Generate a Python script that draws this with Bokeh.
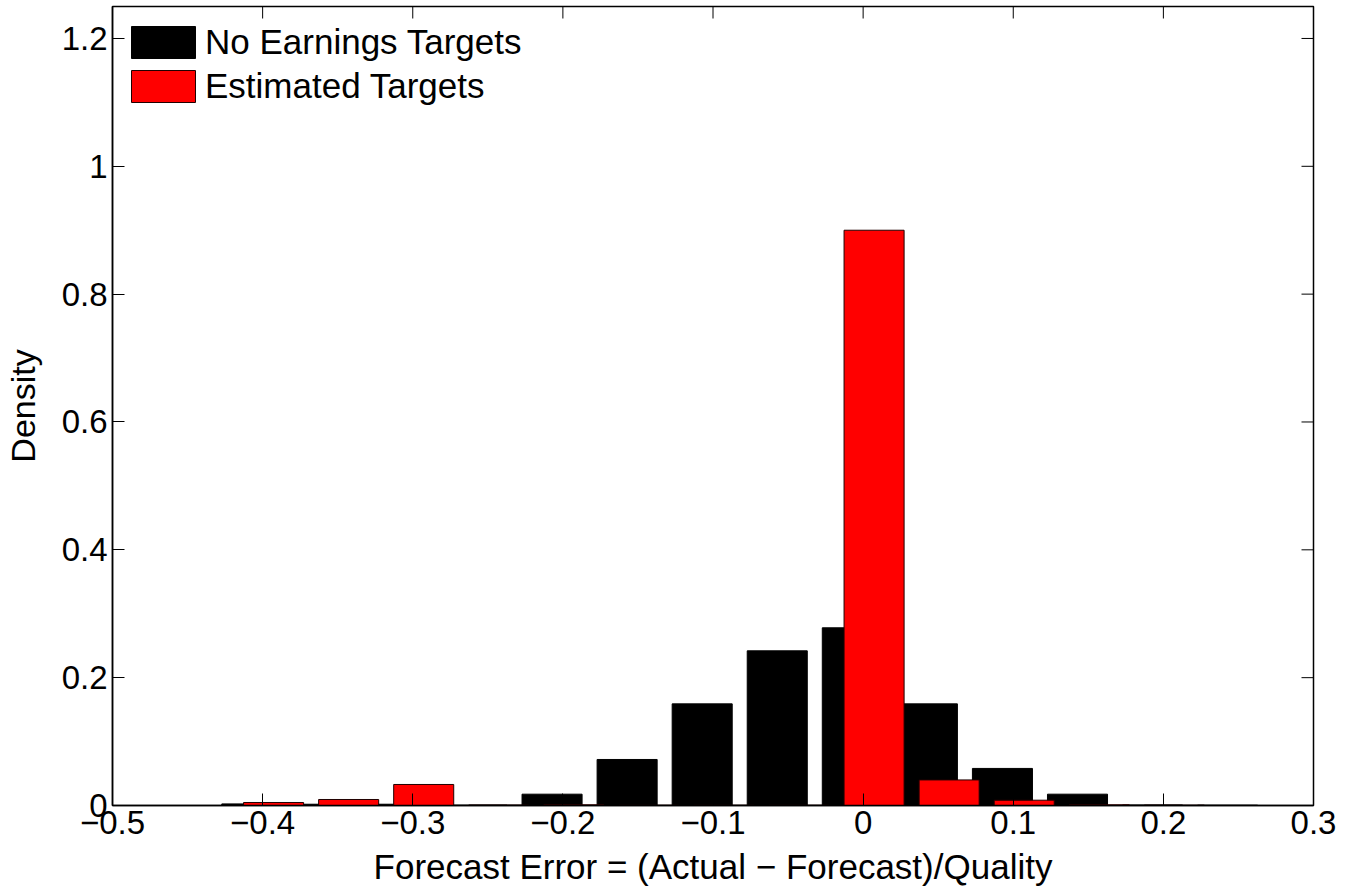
import math
from bokeh.plotting import figure
from bokeh.models import Range1d, FixedTicker, Legend, LegendItem
from bokeh.embed import file_html
from bokeh.resources import INLINE

# ---- data ----
no_target_centers = [-0.4072, -0.3572, -0.3072, -0.2572, -0.2072, -0.1572, -0.1072,
                     -0.0572, -0.0072, 0.0428, 0.0928, 0.1428, 0.1928, 0.2428]
no_target_density = [0.0025, 0.002, 0.002, 0.0005, 0.0177, 0.072, 0.159,
                     0.242, 0.278, 0.159, 0.058, 0.0177, 0.0008, 0.0005]

est_centers = [-0.3927, -0.3427, -0.2927, -0.2427, -0.1927, -0.1427, -0.0927,
               -0.0427, 0.0073, 0.0573, 0.1073, 0.1573, 0.2073]
est_density = [0.0047, 0.0094, 0.0329, 0.0008, 0.001, 0.0005, 0.0005,
               0.0005, 0.9, 0.040, 0.0083, 0.001, 0.0006]

bar_width = 0.04

x_min, x_max = -0.5, 0.3
y_min, y_max = 0, 1.25

x_ticks = [-0.5, -0.4, -0.3, -0.2, -0.1, 0, 0.1, 0.2, 0.3]
x_tick_labels = ["\u22120.5", "\u22120.4", "\u22120.3", "\u22120.2", "\u22120.1", "0", "0.1", "0.2", "0.3"]
y_ticks = [0, 0.2, 0.4, 0.6, 0.8, 1, 1.2]
y_tick_labels = ["0", "0.2", "0.4", "0.6", "0.8", "1", "1.2"]

x_label = "Forecast Error = (Actual \u2212 Forecast)/Quality"
y_label = "Density"
series_names = ["No Earnings Targets", "Estimated Targets"]

FONT = "Liberation Sans"
TICK_LEN = 12

p = figure(width=1346, height=888,
           x_range=Range1d(x_min, x_max), y_range=Range1d(y_min, y_max),
           output_backend="svg", toolbar_location=None,
           min_border_left=109, min_border_right=33,
           min_border_top=6, min_border_bottom=83)

p.xgrid.visible = False
p.ygrid.visible = False
p.outline_line_color = "black"
p.outline_line_width = 1.5
p.background_fill_color = "white"
p.border_fill_color = "white"

rb = p.vbar(x=no_target_centers, top=no_target_density, bottom=0, width=bar_width,
            fill_color="black", line_color="black", line_width=1)
rr = p.vbar(x=est_centers, top=est_density, bottom=0, width=bar_width,
            fill_color="#ff0000", line_color="#200000", line_width=1)

# inward ticks on the top and right edges (box on)
p.ray(x=x_ticks, y=[y_max] * len(x_ticks), length=TICK_LEN, length_units="screen",
      angle=-math.pi / 2, line_color="black", line_width=1)
p.ray(x=[x_max] * len(y_ticks), y=y_ticks, length=TICK_LEN, length_units="screen",
      angle=math.pi, line_color="black", line_width=1)


def style_axis(ax, ticks, labels, font_size, label_size):
    ax.ticker = FixedTicker(ticks=ticks)
    ax.major_label_overrides = dict(zip(ticks, labels))
    ax.major_tick_in = TICK_LEN
    ax.major_tick_out = 0
    ax.minor_tick_in = 0
    ax.minor_tick_out = 0
    ax.axis_line_color = "black"
    ax.axis_line_width = 1.5
    ax.major_tick_line_color = "black"
    ax.major_tick_line_width = 1
    ax.major_label_text_font = FONT
    ax.major_label_text_font_size = font_size
    ax.major_label_text_color = "black"
    ax.axis_label_text_font = FONT
    ax.axis_label_text_font_size = label_size
    ax.axis_label_text_font_style = "normal"
    ax.axis_label_text_color = "black"


xa = p.xaxis[0]
style_axis(xa, x_ticks, x_tick_labels, "33px", "35px")
xa.axis_label = x_label
xa.major_label_standoff = 5
xa.axis_label_standoff = 10

ya = p.yaxis[0]
style_axis(ya, y_ticks, y_tick_labels, "33px", "34px")
ya.axis_label = y_label
ya.major_label_standoff = 5
ya.axis_label_standoff = 17

legend = Legend(items=[LegendItem(label=series_names[0], renderers=[rb]),
                       LegendItem(label=series_names[1], renderers=[rr])],
                location=(11, 699))
legend.border_line_color = None
legend.background_fill_alpha = 0
legend.label_text_font = FONT
legend.label_text_font_size = "35px"
legend.label_text_color = "black"
legend.glyph_width = 80
legend.glyph_height = 40
legend.label_height = 40
legend.label_standoff = 2
legend.spacing = 4
legend.margin = 0
legend.padding = 0
p.add_layout(legend)

open("out.html", "w").write(file_html(p, INLINE))
